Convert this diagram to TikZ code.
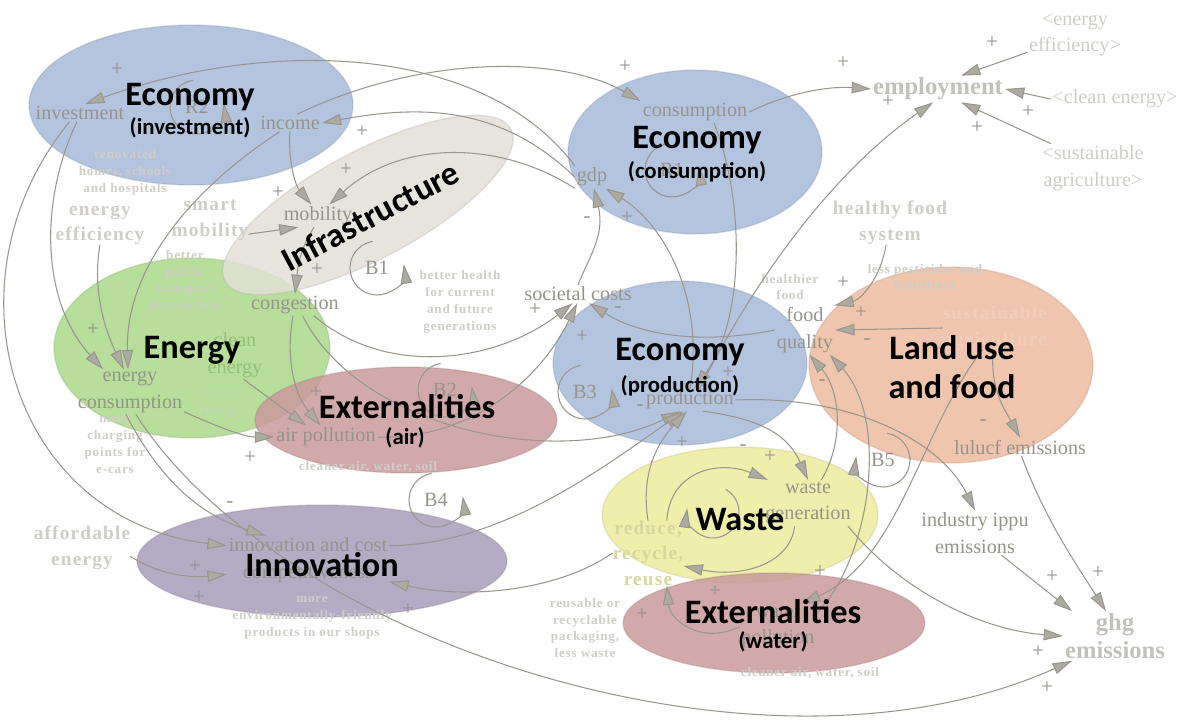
\documentclass[tikz,border=0pt]{standalone}
\usepackage{fontspec}
\setmainfont{Liberation Serif}
\newfontfamily\labelfont{Carlito}
\newfontfamily\notefont[LetterSpace=6]{Liberation Serif}
\usetikzlibrary{arrows.meta}
\definecolor{econblue}{HTML}{A6BAD8}
\definecolor{energygreen}{HTML}{ABD88A}
\definecolor{extred}{HTML}{C99A9C}
\definecolor{landpeach}{HTML}{ECBBA0}
\definecolor{wasteyellow}{HTML}{EDEB9C}
\definecolor{innovpurple}{HTML}{A79DBA}
\definecolor{infragray}{HTML}{E2DFD6}
\definecolor{linkgray}{HTML}{99968E}
\definecolor{tipgray}{HTML}{ADAAA2}
\definecolor{vargray}{HTML}{96938B}
\definecolor{notegray}{HTML}{CFCDC8}
\definecolor{cleangreen}{HTML}{96C078}
\definecolor{peachnote}{HTML}{F2CDB8}
\definecolor{olivenote}{HTML}{D8D69E}
\tikzset{
  loop diagram/.style={
    x=0.02cm, y=-0.02cm,
    line cap=round,
    line join=round
  },
  sector/.style={
    fill=#1,
    fill opacity=0.85,
    draw=#1!75!black,
    draw opacity=0.25,
    line width=0.8pt
  },
  link/.style={
    -{Triangle[length=11pt,width=6.5pt,fill=tipgray]},
    draw=linkgray,
    line width=0.6pt
  },
  var/.style={
    text=vargray,
    font=\fontsize{11.5}{15}\selectfont,
    align=center,
    inner sep=1pt
  },
  keyvar/.style={
    var,
    font=\bfseries\fontsize{14}{16}\selectfont,
    text=notegray!80!vargray
  },
  note/.style={
    text=notegray,
    font=\notefont\bfseries\fontsize{7.5}{9.6}\selectfont,
    align=center,
    inner sep=0pt
  },
  bignote/.style={
    note,
    font=\notefont\bfseries\fontsize{11}{14.5}\selectfont
  },
  sector label/.style={
    font=\labelfont\bfseries\fontsize{19.5}{22}\selectfont,
    text=black,
    align=center,
    inner sep=0pt
  },
  sub label/.style={
    font=\labelfont\bfseries\fontsize{13}{15}\selectfont,
    text=black,
    inner sep=0pt
  },
  loopmark/.style={var},
  sign/.style={
    text=vargray,
    font=\fontsize{12}{12}\selectfont,
    inner sep=0pt
  }
}
\begin{document}
\begin{tikzpicture}[loop diagram]
\useasboundingbox (0,0) rectangle (1185,726);

% sectors
\path[sector=energygreen] (192,348) ellipse [x radius=138, y radius=90];
\path[sector=infragray, rotate around={28:(368,205)}] (368,205) ellipse [x radius=162, y radius=54];
\path[sector=extred] (406,420) ellipse [x radius=151, y radius=53];
\path[sector=econblue] (191,105) ellipse [x radius=162, y radius=80];
\path[sector=econblue] (695,152) ellipse [x radius=127, y radius=82];
\path[sector=econblue] (680,363) ellipse [x radius=127, y radius=82];
\path[sector=landpeach] (951,365) ellipse [x radius=142, y radius=98];
\path[sector=wasteyellow] (740,515) ellipse [x radius=138, y radius=68];
\path[sector=extred] (774,623) ellipse [x radius=151, y radius=50];
\path[sector=innovpurple] (322,561) ellipse [x radius=185, y radius=56];

% variables
\node[var] (inv) at (80,113) {investment};
\node[var] (inc) at (290,123) {income};
\node[var] (cons) at (695,112) {consumption};
\node[var] (gdp) at (592,177) {gdp};
\node[var] (mob) at (318,216) {mobility};
\node[var] (cong) at (295,305) {congestion};
\node[var] (soc) at (578,294) {societal costs};
\node[var] (econs) at (130,392) {energy\\consumption};
\node[var, text=cleangreen] (clen) at (235,355) {clean\\energy};
\node[var] (airp) at (326,437) {air pollution};
\node[var] (prod) at (690,400) {production};
\node[var] (foodq) at (805,330) {food\\quality};
\node[var] (wasteg) at (808,503) {waste\\generation};
\node[var] (watp) at (778,627) {water\\pollution};
\node[var] (lulucf) at (1020,447) {lulucf emissions};
\node[var] (ippu) at (975,533) {industry ippu\\emissions};
\node[keyvar] (ghg) at (1115,636) {ghg\\emissions};
\node[keyvar] (empl) at (938,89) {employment};
\node[var, text=notegray] (eeff) at (1075,35) {<energy\\efficiency>};
\node[var, text=notegray] (cleanE) at (1115,99) {<clean energy>};
\node[var, text=notegray] (sagr) at (1093,168) {<sustainable\\agriculture>};
\node[var] (innov) at (308,560) {innovation and cost\\competitiveness};

% policy levers
\node[bignote] (effic) at (100,225) {energy\\efficiency};
\node[bignote] (smob) at (210,220) {smart\\mobility};
\node[bignote] (hfood) at (890,223) {healthy food\\system};
\node[bignote] (afford) at (82,548) {affordable\\energy};
\node[bignote, text=peachnote] (susag) at (995,328) {sustainable\\agriculture};
\node[bignote, text=olivenote] (rrr) at (648,553) {reduce,\\recycle,\\reuse};

% notes
\node[note] (renov) at (125,172) {renovated\\homes, schools\\and hospitals};
\node[note] (bpt) at (185,280) {better\\public\\transport\\alternatives};
\node[note] (charg) at (115,445) {more\\charging\\points for\\e-cars};
\node[note, text=cleangreen!60!white] (clener) at (220,402) {cleaner\\energy};
\node[note] (health) at (460,302) {better health\\for current\\and future\\generations};
\node[note] (cleanair) at (368,467) {cleaner air, water, soil};
\node[note] (healthier) at (790,287) {healthier\\food};
\node[note] (pest) at (925,277) {less pesticides and\\fertilizers};
\node[note] (envfr) at (312,618) {more\\environmentally-friendly\\products in our shops};
\node[note] (reusable) at (585,628) {reusable or\\recyclable\\packaging,\\less waste};
\node[note] (cleanwat) at (810,673) {cleaner air, water, soil};

% links
\draw[link] (gdp.north west) .. controls (480,40) and (260,40) .. (inv.60);
\draw[link] (gdp.west) .. controls (500,105) and (420,105) .. (inc.east);
\draw[link] (gdp.south west) .. controls (500,140) and (400,140) .. (mob.45);
\draw[link] (inc.50) .. controls (420,55) and (560,55) .. (cons.north west);
\draw[link] (inc.south) .. controls (288,160) and (295,185) .. (mob.120);
\draw[link] (inc.220) .. controls (190,190) and (125,270) .. (econs.95);
\draw[link] (inv.250) .. controls (40,200) and (40,300) .. (econs.140);
\draw[link] (inv.220) .. controls (-60,280) and (10,520) .. (innov.170);
\draw[link] (effic.south) .. controls (92,290) and (105,330) .. (econs.105);
\draw[link] (smob.-20) -- (mob.-150);
\draw[link] (mob.-110) .. controls (300,250) and (298,265) .. (cong.north);
\draw[link] (cong.-100) .. controls (285,360) and (295,395) .. (airp.115);
\draw[link] (cong.-30) .. controls (390,380) and (500,360) .. (soc.240);
\draw[link] (cong.-55) .. controls (360,430) and (560,470) .. (prod.-130);
\draw[link] (clen.-70) -- (airp.150);
\draw[link] (econs.-20) .. controls (220,428) and (245,437) .. (airp.west);
\draw[link] (airp.east) .. controls (470,440) and (540,380) .. (soc.265);
\draw[link] (soc.north) .. controls (590,255) and (605,235) .. (gdp.-80);
\draw[link] (prod.north) .. controls (705,300) and (665,225) .. (gdp.-40);
\draw[link] (cons.-30) .. controls (745,200) and (745,320) .. (prod.70);
\draw[link] (foodq.west) .. controls (700,345) and (640,335) .. (soc.-40);
\draw[link] (prod.50) .. controls (770,250) and (850,160) .. (empl.-110);
\draw[link] (cons.east) .. controls (790,92) and (830,86) .. (empl.west);
\draw[link] (eeff.-160) -- (empl.30);
\draw[link] (cleanE.west) -- (empl.east);
\draw[link] (sagr.150) -- (empl.-30);
\draw[link] (hfood.-100) .. controls (880,280) and (860,300) .. (foodq.40);
\draw[link] (susag.west) -- (foodq.east);
\draw[link] (susag.-95) .. controls (990,390) and (1005,410) .. (lulucf.north);
\draw[link] (lulucf.-80) .. controls (1045,520) and (1080,570) .. (ghg.110);
\draw[link] (ippu.-40) -- (ghg.150);
\draw[link] (prod.east) .. controls (850,395) and (940,440) .. (ippu.north);
\draw[link] (wasteg.-30) .. controls (900,590) and (980,630) .. (ghg.west);
\draw[link] (econs.-75) .. controls (280,640) and (760,800) .. (ghg.-150);
\draw[link] (econs.-100) .. controls (160,480) and (200,515) .. (innov.150);
\draw[link] (afford.-10) .. controls (160,575) and (190,578) .. (innov.190);
\draw[link] (rrr.west) .. controls (560,590) and (470,600) .. (innov.-15);
\draw[link] (innov.10) .. controls (500,545) and (600,470) .. (prod.-120);
\draw[link] (rrr.north) .. controls (640,470) and (660,440) .. (prod.-105);
\draw[link] (rrr.60) .. controls (670,470) and (720,460) .. (wasteg.150);
\draw[link] (prod.-40) .. controls (770,420) and (790,440) .. (wasteg.north);
\draw[link] (wasteg.-120) .. controls (790,565) and (740,578) .. (rrr.-20);
\draw[link] (wasteg.60) .. controls (845,440) and (840,390) .. (foodq.-80);
\draw[link] (susag.-120) .. controls (920,430) and (900,560) .. (watp.45);
\draw[link] (watp.20) .. controls (870,560) and (890,420) .. (foodq.-45);
\draw[link] (watp.west) .. controls (700,645) and (670,620) .. (rrr.-60);

% loops
\foreach \lab/\x/\y in {R1/672/170, R2/197/107, B1/377/268, B2/445/390, B3/585/392, B4/436/500}{
  \node[loopmark] (loop\lab) at (\x,\y) {\lab};
  \draw[link] (loop\lab.center) ++(-100:27) arc[start angle=-100, end angle=-368, radius=27];
}
\node[loopmark] (loopB5) at (883,460) {B5};
\draw[link] (loopB5.center) ++(-80:27) arc[start angle=-80, end angle=188, radius=27];
\coordinate (wasteloop) at (713,512);
\draw[link] (wasteloop) ++(-60:26) arc[start angle=-60, end angle=188, radius=26];

% polarities
\foreach \x/\y/\s [count=\i] in {117/70/+, 362/132/+, 346/170/+, 278/193/+, 317/270/+, 535/310/+,
  625/67/+, 627/218/+, 587/220/-, 843/63/+, 888/102/+, 992/43/+, 1028/112/+, 977/128/+,
  93/330/+, 250/458/+, 316/393/+, 582/337/+, 618/310/-, 728/373/+, 640/408/-, 682/443/+,
  843/283/+, 861/313/+, 867/342/-, 822/383/-, 983/423/-, 743/448/-, 770/457/+, 820/572/+,
  715/592/+, 642/615/+, 1052/577/+, 1098/573/+, 1038/652/+, 1047/688/+, 230/505/-,
  195/567/+, 199/598/+, 408/610/+}{
  \node[sign] (sign\i) at (\x,\y) {\s};
}

% sector labels
\node[sector label] (tInv) at (190,97) {Economy};
\node[sub label] (sInv) at (190,128) {(investment)};
\node[sector label] (tCons) at (697,140) {Economy};
\node[sub label] (sCons) at (697,172) {(consumption)};
\node[sector label, rotate=28] (tInfra) at (370,216) {Infrastructure};
\node[sector label] (tEnergy) at (192,350) {Energy};
\node[sector label] (tAir) at (407,407) {Externalities};
\node[sub label] (sAir) at (405,438) {(air)};
\node[sector label] (tProd) at (680,352) {Economy};
\node[sub label] (sProd) at (680,386) {(production)};
\node[sector label] (tLand) at (952,367) {Land use\\and food};
\node[sector label] (tWaste) at (740,520) {Waste};
\node[sector label] (tWat) at (773,612) {Externalities};
\node[sub label] (sWat) at (773,642) {(water)};
\node[sector label] (tInnov) at (322,565) {Innovation};
\end{tikzpicture}
\end{document}
